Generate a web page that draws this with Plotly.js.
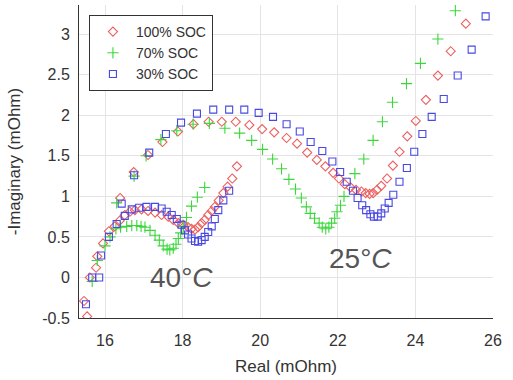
<!DOCTYPE html>
<html>
<head>
<meta charset="utf-8">
<script src="https://cdn.plot.ly/plotly-3.0.1.min.js"></script>
<style>
  html, body { margin: 0; padding: 0; background: #fff; }
  #chart { width: 513px; height: 380px; }
</style>
</head>
<body>
<div id="chart"></div>
<script>
// Nyquist impedance spectra at two temperatures, three states of charge.
// Real part (mOhm) and negative imaginary part (mOhm).

// 100% SOC, 40 °C
const soc100_40_re = [15.61,15.77,15.80,15.95,16.10,16.25,16.38,16.51,16.64,16.77,16.94,17.11,17.29,17.46,17.63,17.76,17.89,18.02,18.14,18.23,18.32,18.40,18.49,18.57,18.66,18.75,18.83,18.93,19.05,19.16,19.28,19.40];
const soc100_40_im = [0.00,0.12,0.26,0.42,0.57,0.63,0.70,0.77,0.81,0.83,0.84,0.82,0.80,0.77,0.75,0.71,0.67,0.65,0.62,0.60,0.59,0.62,0.67,0.71,0.77,0.82,0.87,0.95,1.04,1.12,1.22,1.37];
// 100% SOC, 25 °C
const soc100_25_re = [15.46,15.54,16.39,16.74,17.11,17.48,17.88,18.28,18.67,19.01,19.37,19.72,20.05,20.36,20.68,20.95,21.21,21.46,21.68,21.88,22.03,22.18,22.33,22.47,22.61,22.72,22.82,22.91,23.01,23.12,23.27,23.42,23.59,23.79,24.01,24.27,24.58,24.91,25.30];
const soc100_25_im = [-0.29,-0.48,0.98,1.30,1.51,1.67,1.80,1.89,1.92,1.92,1.92,1.88,1.83,1.79,1.72,1.65,1.54,1.45,1.37,1.29,1.22,1.15,1.11,1.08,1.06,1.04,1.03,1.04,1.08,1.13,1.22,1.38,1.55,1.74,1.93,2.19,2.49,2.79,3.13];

// 70% SOC, 40 °C
const soc70_40_re = [15.67,15.80,16.00,16.13,16.28,16.40,16.56,16.69,16.82,16.93,17.03,17.16,17.29,17.40,17.50,17.60,17.67,17.76,17.83,17.89,17.95,18.02,18.10,18.23,18.38,18.57];
const soc70_40_im = [-0.05,0.21,0.39,0.50,0.60,0.62,0.63,0.64,0.64,0.63,0.62,0.58,0.52,0.46,0.39,0.35,0.34,0.36,0.41,0.48,0.55,0.63,0.74,0.88,0.99,1.11];
// 70% SOC, 25 °C
const soc70_25_re = [16.30,16.75,17.06,17.44,17.85,18.27,18.69,19.09,19.47,19.78,20.06,20.32,20.55,20.74,20.91,21.06,21.19,21.29,21.40,21.52,21.60,21.69,21.77,21.84,21.92,21.98,22.07,22.16,22.44,22.67,22.91,23.15,23.41,23.77,24.13,24.58,25.03];
const soc70_25_im = [0.92,1.25,1.50,1.70,1.81,1.89,1.90,1.84,1.78,1.69,1.58,1.46,1.34,1.21,1.09,0.98,0.87,0.79,0.73,0.67,0.62,0.60,0.62,0.67,0.73,0.81,0.89,1.00,1.28,1.46,1.69,1.92,2.16,2.39,2.64,2.94,3.29];

// 30% SOC, 40 °C
const soc30_40_re = [15.67,15.85,15.90,16.10,16.30,16.51,16.69,16.88,17.07,17.29,17.46,17.59,17.72,17.85,17.97,18.06,18.14,18.23,18.32,18.40,18.49,18.57,18.66,18.75,18.83,18.92,19.05,19.20];
const soc30_40_im = [0.00,0.00,0.27,0.50,0.66,0.76,0.84,0.86,0.87,0.87,0.85,0.81,0.77,0.72,0.65,0.58,0.53,0.48,0.45,0.44,0.46,0.50,0.56,0.63,0.72,0.83,0.95,1.07];
// 30% SOC, 25 °C
const soc30_25_re = [15.51,16.43,16.75,17.14,17.57,17.96,18.37,18.79,19.20,19.59,19.96,20.33,20.68,21.02,21.30,21.60,21.86,22.06,22.23,22.39,22.51,22.63,22.73,22.84,22.93,23.03,23.12,23.21,23.31,23.43,23.59,23.78,23.97,24.18,24.42,24.73,25.09,25.45,25.81];
const soc30_25_im = [-0.33,0.91,1.26,1.54,1.77,1.91,2.02,2.07,2.07,2.07,2.03,1.98,1.89,1.80,1.67,1.56,1.43,1.30,1.18,1.07,0.98,0.89,0.83,0.78,0.75,0.75,0.79,0.85,0.92,1.02,1.18,1.35,1.55,1.77,1.98,2.20,2.49,2.81,3.22];

const seriesNames = ['100% SOC', '70% SOC', '30% SOC'];
const yTickVals = [-0.5, 0, 0.5, 1, 1.5, 2, 2.5, 3];
const yTickText = ['-0.5', '0', '0.5', '1', '1.5', '2', '2.5', '3'];
const xTickVals = [16, 18, 20, 22, 24, 26];
const tempLabels = ['40°<i>C</i>', '25°<i>C</i>'];
const tempLabelPos = [[17.96, 0.0], [22.58, 0.23]];

const FONT = 'Liberation Sans, Arial, sans-serif';

function scatter(name, xs, ys, symbol, color, size) {
  return {
    type: 'scatter', mode: 'markers', name: name,
    x: xs, y: ys,
    marker: { symbol: symbol, size: size, color: color, line: { color: color, width: 1.1 } },
    cliponaxis: true
  };
}

const data = [
  scatter(seriesNames[0], soc100_40_re.concat(soc100_25_re), soc100_40_im.concat(soc100_25_im),
          'diamond-open', 'rgb(236,96,96)', 7),
  scatter(seriesNames[1], soc70_40_re.concat(soc70_25_re), soc70_40_im.concat(soc70_25_im),
          'cross-thin-open', 'rgb(60,215,60)', 8),
  scatter(seriesNames[2], soc30_40_re.concat(soc30_25_re), soc30_40_im.concat(soc30_25_im),
          'square-open', 'rgb(72,72,228)', 7)
];

const layout = {
  width: 513, height: 380,
  margin: { l: 79, r: 20, t: 5, b: 62 },
  paper_bgcolor: '#fff', plot_bgcolor: '#fff',
  font: { family: FONT, size: 15, color: '#333' },
  showlegend: true,
  legend: {
    x: 0.024, y: 0.968, xanchor: 'left', yanchor: 'top',
    bgcolor: '#fff', bordercolor: '#333', borderwidth: 1,
    font: { family: FONT, size: 14, color: '#333' },
    tracegroupgap: 0, itemwidth: 36
  },
  xaxis: {
    range: [15.33, 26.0],
    tickvals: xTickVals,
    showgrid: true, gridcolor: '#e4e4e4', gridwidth: 1,
    zeroline: false,
    showline: true, linecolor: '#333', linewidth: 1,
    ticks: '', ticklabelstandoff: 8,
    tickfont: { family: FONT, size: 16, color: '#333' },
    title: { text: 'Real (mOhm)', font: { family: FONT, size: 17, color: '#333' }, standoff: 11 }
  },
  yaxis: {
    range: [-0.5, 3.36],
    tickvals: yTickVals, ticktext: yTickText,
    showgrid: true, gridcolor: '#e4e4e4', gridwidth: 1,
    zeroline: false,
    showline: true, linecolor: '#333', linewidth: 1,
    ticks: '', ticklabelstandoff: 5,
    tickfont: { family: FONT, size: 16, color: '#333' },
    title: { text: '-Imaginary (mOhm)', font: { family: FONT, size: 17, color: '#333' }, standoff: 17 }
  },
  annotations: tempLabels.map((t, i) => ({
    x: tempLabelPos[i][0], y: tempLabelPos[i][1], xref: 'x', yref: 'y',
    text: t, showarrow: false,
    font: { family: FONT, size: 28, color: '#555' }
  }))
};

Plotly.newPlot('chart', data, layout, { displayModeBar: false, staticPlot: true });
</script>
</body>
</html>
